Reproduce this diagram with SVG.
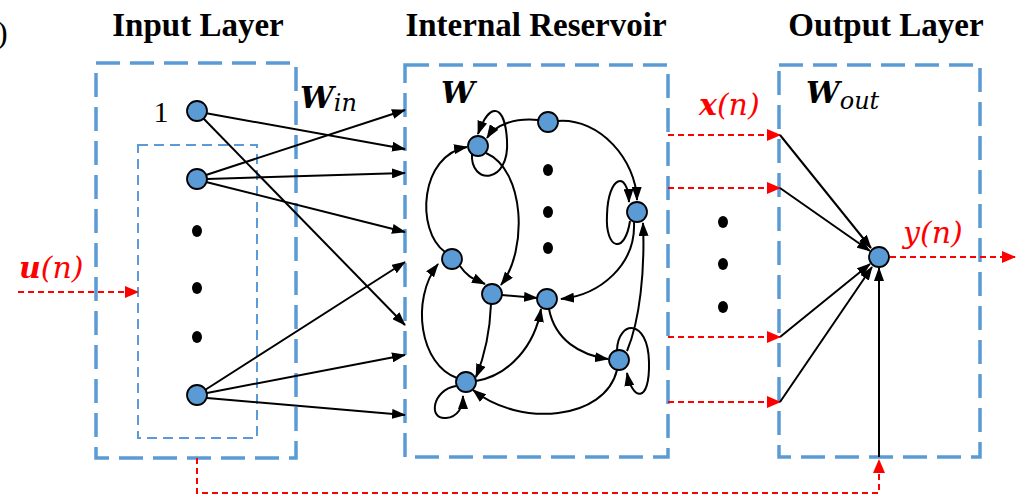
<svg xmlns="http://www.w3.org/2000/svg" width="1021" height="496" viewBox="0 0 1021 496">
<style>
.title{font-family:"Liberation Serif",serif;font-weight:bold;font-size:33px;fill:#000;text-anchor:middle}
.math{font-family:"DejaVu Serif",serif;font-style:italic;font-size:30px}
.box{fill:none;stroke:#5B9BD5;stroke-width:3.5;stroke-dasharray:24 10}
.inner{fill:none;stroke:#5B9BD5;stroke-width:2;stroke-dasharray:10 6}
.node{fill:#5B9BD5;stroke:#000;stroke-width:1.8}
.e{fill:none;stroke:#000;stroke-width:2;marker-end:url(#ab)}
.r{fill:none;stroke:#FF0000;stroke-width:2;stroke-dasharray:6 4;marker-end:url(#ar)}
.dot{fill:#000}
</style>
<defs>
<marker id="ab" markerWidth="14" markerHeight="10" refX="13" refY="5" orient="auto" markerUnits="userSpaceOnUse"><path d="M0,0 L14,5 L0,10 z" fill="#000"/></marker>
<marker id="ar" markerWidth="14" markerHeight="12" refX="13" refY="6" orient="auto" markerUnits="userSpaceOnUse"><path d="M0,0 L14,6 L0,12 z" fill="#FF0000"/></marker>
</defs>
<rect width="1021" height="496" fill="#fff"/>

<text x="-3" y="43" style="font-family:'Liberation Serif',serif;font-size:32px">)</text>
<text class="title" x="198" y="36">Input Layer</text>
<text class="title" x="536" y="36">Internal Reservoir</text>
<text class="title" x="886" y="36">Output Layer</text>

<g id="input-layer">
<rect class="box" x="96" y="63" width="200" height="395"/>
<rect class="inner" x="138" y="145" width="119" height="293"/>
</g>
<g id="reservoir-box"><rect class="box" x="405" y="65" width="263" height="392"/></g>
<g id="output-layer"><rect class="box" x="779" y="65" width="201" height="392"/></g>

<g id="labels">
<text x="161" y="122" style="font-family:'Liberation Serif',serif;font-size:30px" text-anchor="middle">1</text>
<text x="19" y="278" class="math" fill="#FF0000"><tspan font-weight="bold">u</tspan>(n)</text>
<text x="300" y="108" class="math" font-weight="bold" font-size="29">W<tspan font-weight="normal" font-size="24" dy="3">in</tspan></text>
<text x="441" y="103" class="math" font-weight="bold" font-size="29">W</text>
<text x="806" y="103" class="math" font-weight="bold" font-size="29">W<tspan font-weight="normal" font-size="24" dy="6">out</tspan></text>
<text x="699" y="115" class="math" fill="#FF0000"><tspan font-weight="bold">x</tspan>(n)</text>
<text x="903" y="243" class="math" fill="#FF0000">y(n)</text>
</g>

<g id="connectors">
<path class="r" d="M18,292 L138,292"/>
<path class="e" d="M205,113 L405,149"/>
<path class="e" d="M203,118 L405,325"/>
<path class="e" d="M206,175 L405,110"/>
<path class="e" d="M207,179 L405,173"/>
<path class="e" d="M206,182 L405,232"/>
<path class="e" d="M205,390 L405,262"/>
<path class="e" d="M207,393 L405,355"/>
<path class="e" d="M207,398 L405,415"/>
<path class="e" d="M538,120 C515,118 496,124 487,138"/>
<path class="e" d="M558,121 C600,118 636,160 637,200"/>
<path class="e" d="M472,154 C470,185 510,185 507,140 C505,105 490,100 478,134"/>
<path class="e" d="M445,252 C415,230 420,155 467,147"/>
<path class="e" d="M486,153 C525,170 528,250 501,285"/>
<path class="e" d="M630,221 C625,255 605,250 607,215 C608,175 628,170 629,202"/>
<path class="e" d="M634,222 C636,265 600,295 561,299"/>
<path class="e" d="M627,351 C640,320 645,270 643,223"/>
<path class="e" d="M617,350 C618,320 648,318 649,362 C650,405 632,400 627,373"/>
<path class="e" d="M460,266 C468,278 475,279 485,284"/>
<path class="e" d="M502,295 L537,298"/>
<path class="e" d="M491,304 C490,330 485,355 476,377"/>
<path class="e" d="M476,381 C510,375 535,345 541,309"/>
<path class="e" d="M457,378 C420,365 410,300 438,264"/>
<path class="e" d="M456,386 C432,390 428,420 446,418 C458,417 463,407 463,396"/>
<path class="e" d="M549,309 C555,340 580,355 608,359"/>
<path class="e" d="M617,370 C605,420 520,428 473,390"/>
<path class="r" d="M668,135 L780,135"/>
<path class="r" d="M668,188 L780,188"/>
<path class="r" d="M668,337 L780,337"/>
<path class="r" d="M668,402 L780,402"/>
<path class="e" d="M780,135 L871,248"/>
<path class="e" d="M780,188 L870,251"/>
<path class="e" d="M780,337 L870,264"/>
<path class="e" d="M780,402 L872,267"/>
<path class="e" d="M879,457 L879,268"/>
<path class="r" d="M890,257 L1015,257"/>
<path class="r" d="M197,458 L197,493 L879,493 L879,460"/>
</g>

<g id="input-nodes">
<circle class="node" cx="197" cy="111" r="10"/>
<circle class="node" cx="197" cy="179" r="10"/>
<circle class="node" cx="197" cy="395" r="10"/>
<ellipse class="dot" cx="197" cy="231" rx="5" ry="6"/>
<ellipse class="dot" cx="197" cy="288" rx="5" ry="6"/>
<ellipse class="dot" cx="197" cy="337" rx="5" ry="6"/>
</g>
<g id="reservoir-nodes">
<circle class="node" cx="478" cy="146" r="10"/>
<circle class="node" cx="548" cy="122" r="10"/>
<circle class="node" cx="637" cy="212" r="10"/>
<circle class="node" cx="452" cy="259" r="10"/>
<circle class="node" cx="492" cy="294" r="10"/>
<circle class="node" cx="547" cy="299" r="10"/>
<circle class="node" cx="619" cy="360" r="10"/>
<circle class="node" cx="466" cy="382" r="10"/>
<ellipse class="dot" cx="548" cy="170" rx="5" ry="6"/>
<ellipse class="dot" cx="548" cy="212" rx="5" ry="6"/>
<ellipse class="dot" cx="548" cy="248" rx="5" ry="6"/>
</g>
<g id="output-nodes">
<circle class="node" cx="879" cy="257" r="10"/>
<ellipse class="dot" cx="723" cy="222" rx="5" ry="6"/>
<ellipse class="dot" cx="723" cy="264" rx="5" ry="6"/>
<ellipse class="dot" cx="723" cy="307" rx="5" ry="6"/>
</g>
</svg>
